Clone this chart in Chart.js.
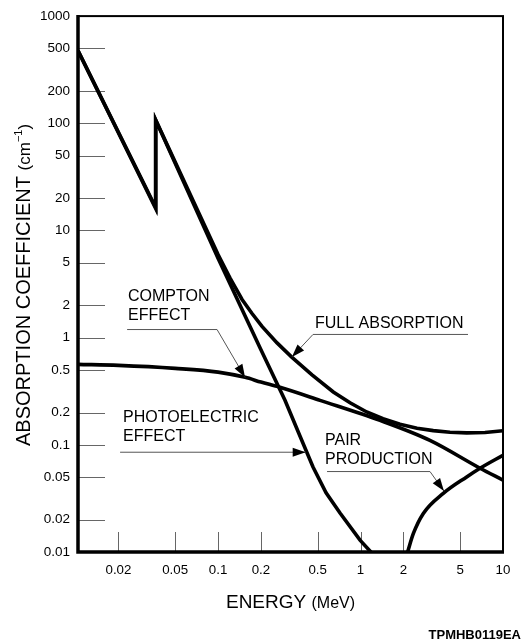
<!DOCTYPE html>
<html lang="en">
<head>
<meta charset="UTF-8">
<title>Absorption coefficient vs energy</title>
<script src="https://cdn.jsdelivr.net/npm/chart.js@4.4.0/dist/chart.umd.min.js"></script>
<style>
  body { margin: 0; background: #fff; }
</style>
</head>
<body>
<canvas id="chart" width="522" height="641"></canvas>
<script>
// energy in MeV, absorption coefficient in cm-1
const photoEnergy = [0.0104, 0.0365, 0.0365, 0.1, 0.2, 0.295, 0.37, 0.464, 0.573, 0.718, 0.992, 1.2];
const photoCoef   = [475, 16, 107, 5.5, 0.77, 0.26, 0.127, 0.062, 0.0357, 0.0231, 0.0129, 0.0098];

const comptonEnergy = [0.0104, 0.02, 0.05, 0.1, 0.155, 0.2, 0.272, 0.52, 1.37, 3.07, 6.9, 10];
const comptonCoef   = [0.563, 0.551, 0.517, 0.477, 0.426, 0.385, 0.344, 0.26, 0.169, 0.110, 0.0605, 0.0468];

const fullEnergy = [0.0104, 0.0365, 0.0365, 0.1, 0.1214, 0.1474, 0.1732, 0.2035, 0.2595, 0.329, 0.4566,
                    0.644, 0.844, 1.105, 1.439, 1.893, 2.492, 3.24, 4.246, 5.56, 7.476, 10];
const fullCoef   = [476, 16.4, 107.5, 5.95, 3.6, 2.27, 1.68, 1.272, 0.893, 0.658, 0.4494,
                    0.311, 0.2466, 0.2025, 0.175, 0.1555, 0.143, 0.1356, 0.131, 0.1293, 0.1304, 0.1353];

const pairEnergy = [2.13, 2.35, 2.76, 3.81, 5.56, 6.9, 10];
const pairCoef   = [0.0098, 0.0149, 0.0229, 0.0352, 0.0502, 0.0605, 0.080];

const xTicks = [0.02, 0.05, 0.1, 0.2, 0.5, 1, 2, 5, 10];
const xTickLabels = ['0.02', '0.05', '0.1', '0.2', '0.5', '1', '2', '5', '10'];
const yTicks = [0.01, 0.02, 0.05, 0.1, 0.2, 0.5, 1, 2, 5, 10, 20, 50, 100, 200, 500, 1000];
const yTickLabels = ['0.01', '0.02', '0.05', '0.1', '0.2', '0.5', '1', '2', '5', '10', '20', '50', '100', '200', '500', '1000'];

// curve labels: text anchor (first line baseline) and leader line, in data coordinates
const notes = [
  { lines: ['COMPTON', 'EFFECT'], at: [0.02335, 2.19], leader: [[0.023, 1.19], [0.0984, 1.19], [0.1547, 0.426]] },
  { lines: ['FULL ABSORPTION'], at: [0.4793, 1.218], leader: [[5.68, 1.071], [0.464, 1.071], [0.33, 0.66]] },
  { lines: ['PHOTOELECTRIC', 'EFFECT'], at: [0.02154, 0.1623], leader: [[0.02053, 0.0853], [0.412, 0.0853]] },
  { lines: ['PAIR', 'PRODUCTION'], at: [0.5633, 0.0988], leader: [[0.582, 0.0563], [3.074, 0.0563], [3.85, 0.037]] }
];

const FONT = '"Liberation Sans", Arial, Helvetica, sans-serif';

function toPoints(xs, ys) {
  return xs.map((v, i) => ({ x: v, y: ys[i] }));
}

function drawParts(ctx, parts, x0, y0) {
  let cx = x0;
  parts.forEach(([t, size, rise]) => {
    ctx.font = size + 'px ' + FONT;
    ctx.fillText(t, cx, y0 - rise);
    cx += ctx.measureText(t).width;
  });
}

function partsWidth(ctx, parts) {
  let w = 0;
  parts.forEach(([t, size]) => {
    ctx.font = size + 'px ' + FONT;
    w += ctx.measureText(t).width;
  });
  return w;
}

function arrowHead(ctx, from, tip) {
  const ang = Math.atan2(tip[1] - from[1], tip[0] - from[0]);
  const L = 13, W = 4.5;
  const bx = tip[0] - L * Math.cos(ang), by = tip[1] - L * Math.sin(ang);
  ctx.beginPath();
  ctx.moveTo(tip[0], tip[1]);
  ctx.lineTo(bx - W * Math.sin(ang), by + W * Math.cos(ang));
  ctx.lineTo(bx + W * Math.sin(ang), by - W * Math.cos(ang));
  ctx.closePath();
  ctx.fill();
}

const overlay = {
  id: 'overlay',
  beforeDatasetsDraw(chart) {
    const { ctx, chartArea: a, scales: { x, y } } = chart;
    ctx.save();
    ctx.strokeStyle = '#666';
    ctx.lineWidth = 1;
    yTicks.slice(1, -1).forEach(v => {
      const py = Math.round(y.getPixelForValue(v)) + 0.5;
      ctx.beginPath(); ctx.moveTo(a.left, py); ctx.lineTo(a.left + 27, py); ctx.stroke();
    });
    xTicks.slice(0, -1).forEach(v => {
      const px = Math.round(x.getPixelForValue(v)) + 0.5;
      ctx.beginPath(); ctx.moveTo(px, a.bottom); ctx.lineTo(px, a.bottom - 20); ctx.stroke();
    });
    ctx.restore();
  },
  afterDraw(chart) {
    const { ctx, chartArea: a, scales: { x, y } } = chart;
    const P = p => [x.getPixelForValue(p[0]), y.getPixelForValue(p[1])];
    ctx.save();

    // frame
    ctx.strokeStyle = '#000';
    ctx.lineWidth = 2;
    ctx.strokeRect(a.left, a.top, a.right - a.left, a.bottom - a.top);
    ctx.lineWidth = 3.5;
    ctx.beginPath();
    ctx.moveTo(a.left, a.top - 1);
    ctx.lineTo(a.left, a.bottom);
    ctx.lineTo(a.right + 1, a.bottom);
    ctx.stroke();

    // curve labels with leaders
    ctx.fillStyle = '#000';
    ctx.textBaseline = 'alphabetic';
    ctx.textAlign = 'left';
    notes.forEach(n => {
      const [tx, ty] = P(n.at);
      ctx.font = '16px ' + FONT;
      n.lines.forEach((line, i) => ctx.fillText(line, tx, ty + i * 19));
      const pts = n.leader.map(P);
      ctx.strokeStyle = '#555';
      ctx.lineWidth = 1;
      ctx.beginPath();
      pts.forEach((p, i) => i ? ctx.lineTo(p[0], p[1]) : ctx.moveTo(p[0], p[1]));
      ctx.stroke();
      arrowHead(ctx, pts[pts.length - 2], pts[pts.length - 1]);
    });

    // axis titles
    const xParts = [['ENERGY ', 19, 0], ['(MeV)', 16, 0]];
    const cx = (a.left + a.right) / 2;
    drawParts(ctx, xParts, cx - partsWidth(ctx, xParts) / 2, 608);

    const yParts = [['ABSORPTION COEFFICIENT ', 20, 0], ['(cm', 17, 0], ['\u22121', 11, 8], [')', 17, 0]];
    ctx.save();
    ctx.translate(30, 446);
    ctx.rotate(-Math.PI / 2);
    drawParts(ctx, yParts, 0, 0);
    ctx.restore();

    // figure code
    ctx.font = 'bold 13px ' + FONT;
    ctx.textAlign = 'right';
    ctx.fillText('TPMHB0119EA', 521, 639);

    ctx.restore();
  }
};

const lineStyle = { borderColor: '#000', borderWidth: 3.6, pointRadius: 0, fill: false };

new Chart(document.getElementById('chart'), {
  type: 'line',
  data: {
    datasets: [
      { label: 'Photoelectric effect', data: toPoints(photoEnergy, photoCoef), tension: 0, ...lineStyle },
      { label: 'Compton effect', data: toPoints(comptonEnergy, comptonCoef), cubicInterpolationMode: 'monotone', ...lineStyle },
      { label: 'Full absorption', data: toPoints(fullEnergy, fullCoef), tension: 0, ...lineStyle },
      { label: 'Pair production', data: toPoints(pairEnergy, pairCoef), cubicInterpolationMode: 'monotone', ...lineStyle }
    ]
  },
  options: {
    responsive: false,
    animation: false,
    devicePixelRatio: 1,
    layout: { padding: { left: 0, right: 19, top: 15, bottom: 0 } },
    plugins: { legend: { display: false }, tooltip: { enabled: false } },
    scales: {
      x: {
        type: 'logarithmic',
        min: 0.0104,
        max: 10,
        afterBuildTicks: s => { s.ticks = xTicks.map(v => ({ value: v })); },
        afterFit: s => { s.height = 89; },
        grid: { display: false, drawTicks: false },
        border: { display: false },
        ticks: {
          autoSkip: false, maxRotation: 0, padding: 10, color: '#000',
          font: { family: FONT, size: 13.3 },
          callback: (v, i) => xTickLabels[i]
        }
      },
      y: {
        type: 'logarithmic',
        min: 0.01,
        max: 1000,
        afterBuildTicks: s => { s.ticks = yTicks.map(v => ({ value: v })); },
        afterFit: s => { s.width = 78; },
        grid: { display: false, drawTicks: false },
        border: { display: false },
        ticks: {
          autoSkip: false, padding: 8, color: '#000',
          font: { family: FONT, size: 13.5 },
          callback: (v, i) => yTickLabels[i]
        }
      }
    }
  },
  plugins: [overlay]
});
</script>
</body>
</html>
